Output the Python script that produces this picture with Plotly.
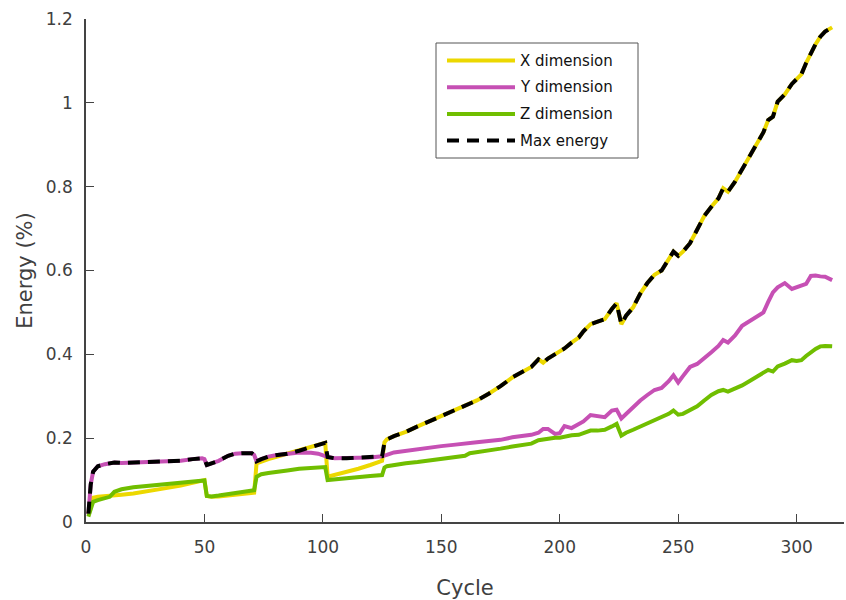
import plotly.graph_objects as go

# Cycle index shared by all series
cycles = [1, 2, 3, 5, 8, 10, 12, 15, 20, 25, 30, 35, 40, 45, 49, 50, 51, 53, 56, 60,
          63, 66, 70, 71, 72, 74, 77, 80, 85, 90, 95, 98, 101, 102, 105, 110, 115, 120, 125, 126,
          127, 130, 135, 140, 145, 150, 155, 160, 162, 165, 170, 175, 180, 185, 188, 191, 193, 195, 198, 200,
          202, 205, 208, 210, 213, 216, 219, 222, 224, 226, 228, 231, 234, 237, 240, 243, 246, 248, 250, 252,
          255, 258, 261, 264, 267, 269, 271, 274, 277, 280, 283, 286, 288, 290, 292, 295, 298, 300, 302, 304,
          306, 308, 310, 312, 315]

energy_x = [0.020, 0.040, 0.058, 0.060, 0.061, 0.062, 0.063, 0.065, 0.068, 0.072, 0.077, 0.082, 0.087, 0.093, 0.098, 0.100, 0.062, 0.060, 0.061, 0.063,
            0.064, 0.066, 0.068, 0.070, 0.140, 0.145, 0.150, 0.155, 0.163, 0.170, 0.178, 0.184, 0.189, 0.108, 0.112, 0.119, 0.127, 0.136, 0.146, 0.190,
            0.197, 0.205, 0.215, 0.228, 0.240, 0.252, 0.264, 0.276, 0.282, 0.290, 0.306, 0.324, 0.345, 0.360, 0.370, 0.388, 0.380, 0.390, 0.400, 0.406,
            0.414, 0.428, 0.440, 0.455, 0.472, 0.478, 0.484, 0.508, 0.522, 0.472, 0.492, 0.512, 0.545, 0.570, 0.590, 0.600, 0.625, 0.645, 0.635, 0.645,
            0.665, 0.700, 0.730, 0.752, 0.772, 0.796, 0.788, 0.812, 0.842, 0.872, 0.898, 0.930, 0.959, 0.967, 1.003, 1.020, 1.045, 1.058, 1.068, 1.095,
            1.118, 1.140, 1.158, 1.170, 1.180]

energy_y = [0.018, 0.090, 0.120, 0.133, 0.138, 0.141, 0.142, 0.141, 0.142, 0.142, 0.143, 0.144, 0.146, 0.150, 0.152, 0.150, 0.136, 0.140, 0.146, 0.158,
            0.163, 0.164, 0.164, 0.160, 0.145, 0.150, 0.156, 0.159, 0.163, 0.166, 0.165, 0.163, 0.157, 0.155, 0.152, 0.152, 0.153, 0.154, 0.157, 0.158,
            0.160, 0.166, 0.170, 0.175, 0.178, 0.181, 0.184, 0.186, 0.187, 0.190, 0.193, 0.196, 0.202, 0.206, 0.208, 0.213, 0.222, 0.222, 0.210, 0.212,
            0.229, 0.224, 0.235, 0.240, 0.255, 0.252, 0.250, 0.266, 0.268, 0.247, 0.258, 0.272, 0.290, 0.303, 0.315, 0.320, 0.336, 0.350, 0.333, 0.348,
            0.370, 0.377, 0.390, 0.405, 0.420, 0.434, 0.428, 0.445, 0.468, 0.478, 0.488, 0.500, 0.525, 0.548, 0.560, 0.570, 0.556, 0.560, 0.566, 0.568,
            0.587, 0.588, 0.586, 0.585, 0.577]

energy_z = [0.013, 0.030, 0.048, 0.052, 0.056, 0.060, 0.072, 0.078, 0.083, 0.086, 0.088, 0.091, 0.094, 0.097, 0.100, 0.099, 0.062, 0.061, 0.063, 0.066,
            0.068, 0.071, 0.074, 0.076, 0.108, 0.114, 0.117, 0.120, 0.123, 0.127, 0.129, 0.130, 0.131, 0.100, 0.102, 0.104, 0.107, 0.110, 0.112, 0.130,
            0.133, 0.136, 0.140, 0.143, 0.147, 0.151, 0.156, 0.158, 0.164, 0.166, 0.170, 0.175, 0.180, 0.184, 0.187, 0.195, 0.197, 0.199, 0.201, 0.201,
            0.204, 0.207, 0.208, 0.212, 0.218, 0.218, 0.220, 0.228, 0.234, 0.206, 0.213, 0.220, 0.228, 0.236, 0.243, 0.250, 0.258, 0.266, 0.256, 0.258,
            0.266, 0.276, 0.290, 0.303, 0.312, 0.315, 0.311, 0.318, 0.326, 0.336, 0.347, 0.357, 0.363, 0.359, 0.371, 0.378, 0.386, 0.384, 0.386, 0.396,
            0.405, 0.413, 0.419, 0.420, 0.419]

energy_max = [0.020, 0.090, 0.120, 0.133, 0.138, 0.141, 0.142, 0.141, 0.142, 0.142, 0.143, 0.144, 0.146, 0.150, 0.152, 0.150, 0.136, 0.140, 0.146, 0.158,
              0.163, 0.164, 0.164, 0.160, 0.145, 0.150, 0.156, 0.159, 0.163, 0.170, 0.178, 0.184, 0.189, 0.155, 0.152, 0.152, 0.153, 0.154, 0.157, 0.190,
              0.197, 0.205, 0.215, 0.228, 0.240, 0.252, 0.264, 0.276, 0.282, 0.290, 0.306, 0.324, 0.345, 0.360, 0.370, 0.388, 0.380, 0.390, 0.400, 0.406,
              0.414, 0.428, 0.440, 0.455, 0.472, 0.478, 0.484, 0.508, 0.522, 0.472, 0.492, 0.512, 0.545, 0.570, 0.590, 0.600, 0.625, 0.645, 0.635, 0.645,
              0.665, 0.700, 0.730, 0.752, 0.772, 0.796, 0.788, 0.812, 0.842, 0.872, 0.898, 0.930, 0.959, 0.967, 1.003, 1.020, 1.045, 1.058, 1.068, 1.095,
              1.118, 1.140, 1.158, 1.170, 1.180]

series_names = ["X dimension", "Y dimension", "Z dimension", "Max energy"]
series_colors = ["#ecd800", "#c650b4", "#70be00", "#000000"]

x_ticks = [0, 50, 100, 150, 200, 250, 300]
y_ticks = [0, 0.2, 0.4, 0.6, 0.8, 1.0, 1.2]
y_tick_text = ["0", "0.2", "0.4", "0.6", "0.8", "1", "1.2"]

FONT = "DejaVu Sans"
AXIS_COLOR = "#444444"
TEXT_COLOR = "#404040"
DASH = "12px,8px"
W, H = 846, 600
ML, MR, MT, MB = 86, 2, 19, 78

fig = go.Figure()
for vals, name, color in zip([energy_x, energy_y, energy_z], series_names[:3], series_colors[:3]):
    fig.add_trace(go.Scatter(x=cycles, y=vals, mode="lines", name=name,
                             line=dict(color=color, width=4), showlegend=False))
fig.add_trace(go.Scatter(x=cycles, y=energy_max, mode="lines", name=series_names[3],
                         line=dict(color=series_colors[3], width=4, dash=DASH), showlegend=False))

# Boxed legend drawn with paper-referenced shapes and text
pw, ph = W - ML - MR, H - MT - MB
def px_x(p):
    return (p - ML) / pw
def px_y(p):
    return (H - MB - p) / ph

shapes = [dict(type="rect", xref="paper", yref="paper",
               x0=px_x(436), x1=px_x(638), y0=px_y(158), y1=px_y(43),
               line=dict(color="#555555", width=1), fillcolor="white", layer="above")]
annotations = []
rows = [60.5, 87.2, 113.9, 140.6]
for name, color, row in zip(series_names, series_colors, rows):
    shapes.append(dict(type="line", xref="paper", yref="paper",
                       x0=px_x(447), x1=px_x(515), y0=px_y(row), y1=px_y(row),
                       line=dict(color=color, width=4, dash=DASH if name == "Max energy" else "solid"),
                       layer="above"))
    annotations.append(dict(xref="paper", yref="paper", x=px_x(518), y=px_y(row),
                            xanchor="left", yanchor="middle", showarrow=False,
                            text=name, font=dict(family=FONT, size=15, color="#111111")))

fig.update_layout(
    width=W, height=H,
    margin=dict(l=ML, r=MR, t=MT, b=MB),
    paper_bgcolor="white", plot_bgcolor="white",
    font=dict(family=FONT, color=TEXT_COLOR),
    shapes=shapes, annotations=annotations,
    showlegend=False,
)
fig.update_xaxes(
    range=[0, 320], tickvals=x_ticks, ticks="inside", ticklen=8, tickwidth=1.3,
    tickcolor=AXIS_COLOR, showline=True, linecolor=AXIS_COLOR, linewidth=1.5,
    showgrid=False, zeroline=False, tickfont=dict(size=17, color=TEXT_COLOR),
    ticklabelstandoff=9,
    title=dict(text="Cycle", font=dict(size=21, color=TEXT_COLOR), standoff=25),
)
fig.update_yaxes(
    range=[0, 1.2], tickvals=y_ticks, ticktext=y_tick_text, ticks="inside", ticklen=8,
    tickwidth=1.3, tickcolor=AXIS_COLOR, showline=True, linecolor=AXIS_COLOR, linewidth=1.5,
    showgrid=False, zeroline=False, tickfont=dict(size=17, color=TEXT_COLOR),
    ticklabelstandoff=8,
    title=dict(text="Energy (%)", font=dict(size=21, color=TEXT_COLOR), standoff=7),
)

fig.write_html("out.html")
